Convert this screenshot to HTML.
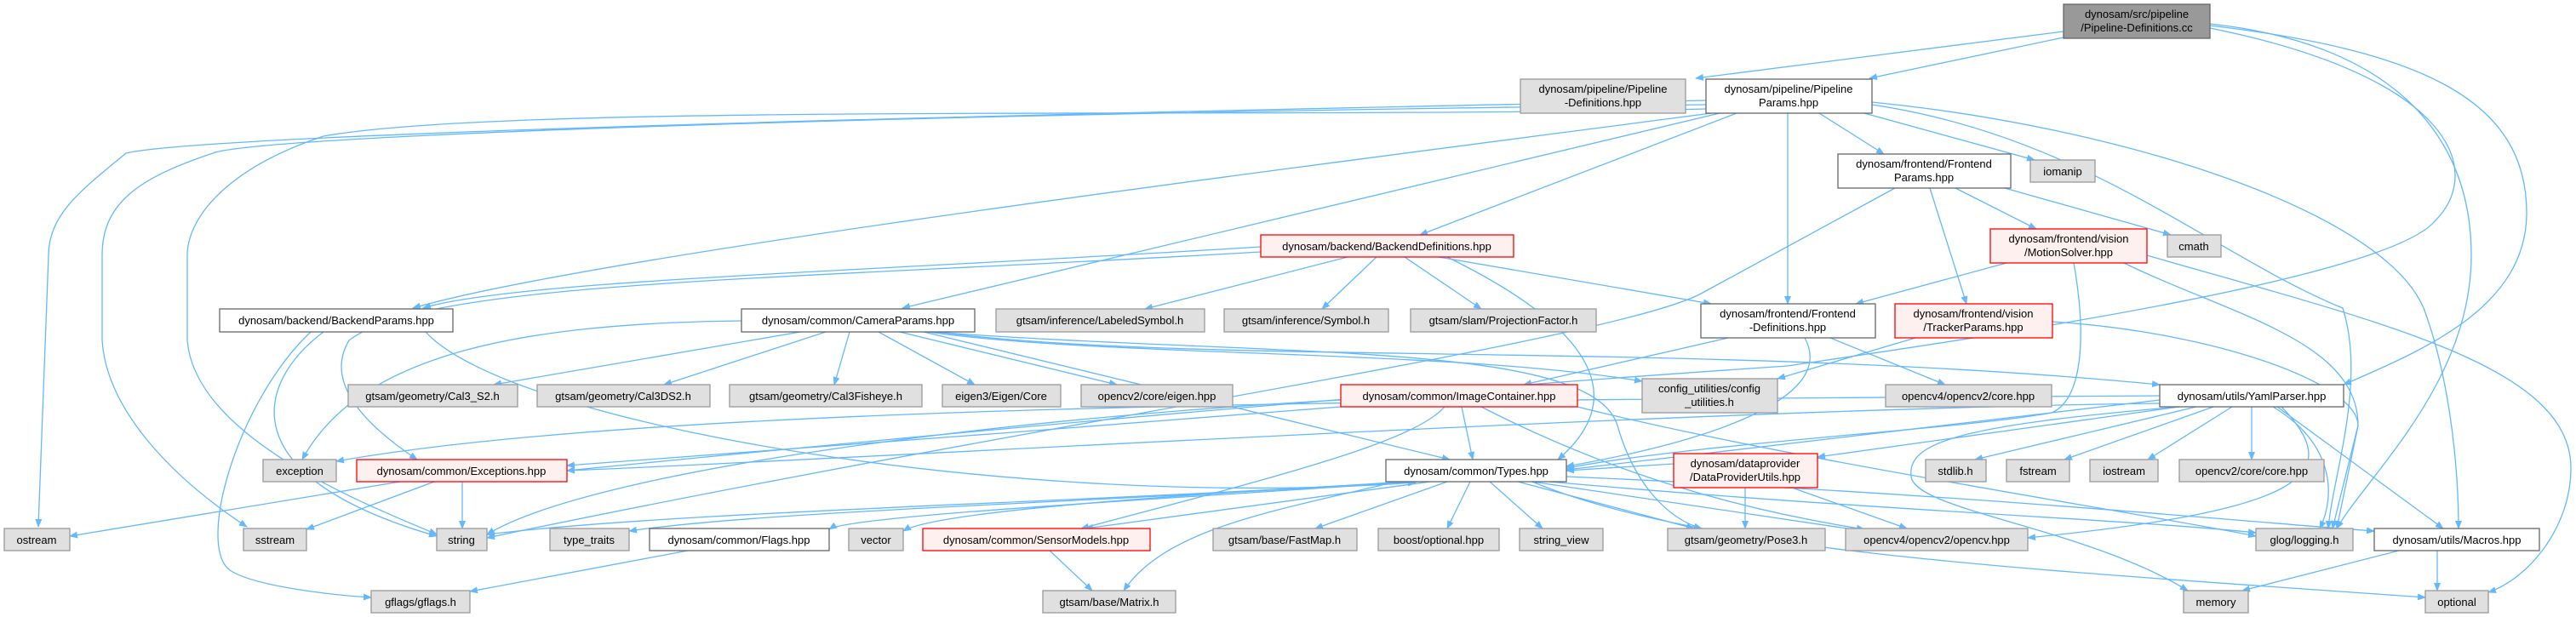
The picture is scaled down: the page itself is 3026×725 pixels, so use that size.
<!DOCTYPE html>
<html><head><meta charset="utf-8"><style>
html,body{margin:0;padding:0;background:#fff;}
svg{display:block;}
text{font-family:"Liberation Sans",sans-serif;font-size:13px;fill:#000;}
.e{fill:none;stroke:#63b8ff;stroke-width:1.3;marker-end:url(#a);}
.w{fill:#fff;stroke:#666;stroke-width:1.3;}
.g{fill:#e0e0e0;stroke:#999;stroke-width:1.3;}
.r{fill:#fff0f0;stroke:#f00;stroke-width:1.3;}
.k{fill:#999;stroke:#666;stroke-width:1.3;}
</style></head><body>
<svg width="3026" height="725" viewBox="0 0 3026 725" xmlns="http://www.w3.org/2000/svg">
<defs><marker id="a" viewBox="0 0 10 10" refX="9" refY="5" markerWidth="10" markerHeight="10" markerUnits="userSpaceOnUse" orient="auto"><path d="M0,1 L10,5 L0,9 z" fill="#63b8ff"/></marker></defs>
<g>
<path class="e" d="M2424,37 L1992,92"/>
<path class="e" d="M2424,44 L2196,92"/>
<path class="e" d="M2596,30 C2850,60 2968,120 2968,250 C2968,360 2850,410 2753,452"/>
<path class="e" d="M2596,28 C2800,50 2903,150 2903,300 C2903,450 2780,560 2745,621"/>
<path class="e" d="M2596,33 C2880,90 2920,200 2860,260 C2800,330 2300,400 2100,430 C1500,470 900,530 666,553"/>
<path class="e" d="M2004,118 C1400,130 250,155 148,180 C100,220 57,250 57,300 L45,619"/>
<path class="e" d="M2004,123 C1000,135 300,160 250,180 C160,210 120,240 120,300 L120,400 C125,480 200,560 290,619"/>
<path class="e" d="M2004,128 C1500,140 600,120 380,160 C260,200 220,260 220,300 L220,400 C230,520 450,600 513,628"/>
<path class="e" d="M2010,133 C1500,200 700,300 485,362"/>
<path class="e" d="M2020,133 L1060,362"/>
<path class="e" d="M2040,133 L1668,276"/>
<path class="e" d="M2100,133 L2100,357"/>
<path class="e" d="M2137,133 L2213,181"/>
<path class="e" d="M2190,133 L2390,188"/>
<path class="e" d="M2199,123 C2450,160 2600,300 2752,362 C2780,450 2740,560 2735,621"/>
<path class="e" d="M2199,120 C2500,150 2800,250 2847,362 C2880,450 2888,560 2888,621"/>
<path class="e" d="M2297,221 L2392,269"/>
<path class="e" d="M2267,221 L2310,357"/>
<path class="e" d="M2355,221 L2550,276"/>
<path class="e" d="M2226,221 L2000,344 C1900,400 1200,500 572,632"/>
<path class="e" d="M2357,309 L2180,357"/>
<path class="e" d="M2436,309 C2452,400 2445,470 2410,485 C2300,505 2000,520 1840,550"/>
<path class="e" d="M2495,309 C2620,370 2770,400 2770,500 L2745,621"/>
<path class="e" d="M2522,300 C2800,380 3020,430 3020,550 C3020,620 2970,680 2923,696"/>
<path class="e" d="M2250,397 L2088,445"/>
<path class="e" d="M2411,378 C2600,390 2770,450 2770,500 L2740,621"/>
<path class="e" d="M2030,397 L1790,452"/>
<path class="e" d="M2150,397 L2285,452"/>
<path class="e" d="M2120,397 C2160,470 2000,520 1840,548"/>
<path class="e" d="M1481,290 C1000,320 600,330 497,362"/>
<path class="e" d="M1481,296 C900,330 500,330 410,400 C380,450 430,500 490,540"/>
<path class="e" d="M1583,302 L1345,363"/>
<path class="e" d="M1617,302 L1553,363"/>
<path class="e" d="M1650,302 L1740,363"/>
<path class="e" d="M1690,302 L2010,357"/>
<path class="e" d="M1700,302 C1900,400 1900,480 1830,540"/>
<path class="e" d="M940,390 L580,452"/>
<path class="e" d="M970,390 L780,452"/>
<path class="e" d="M998,390 L980,452"/>
<path class="e" d="M1032,390 L1145,452"/>
<path class="e" d="M1057,390 L1312,452"/>
<path class="e" d="M1090,390 C1300,420 1700,410 1929,448"/>
<path class="e" d="M1100,390 C1400,430 2000,400 2537,452"/>
<path class="e" d="M1085,390 L1703,540"/>
<path class="e" d="M871,377 C600,380 420,420 355,540"/>
<path class="e" d="M1095,390 C1500,420 1870,400 1900,500 C1920,570 1960,610 1999,621"/>
<path class="e" d="M1575,478 C1300,500 900,530 666,547"/>
<path class="e" d="M1717,478 L1730,540"/>
<path class="e" d="M1697,478 C1660,520 1500,560 1270,621"/>
<path class="e" d="M1740,478 C1900,560 2050,600 2190,622"/>
<path class="e" d="M1853,478 C2100,540 2500,600 2650,630"/>
<path class="e" d="M1575,470 C1200,490 700,550 572,628"/>
<path class="e" d="M2580,478 L2320,540"/>
<path class="e" d="M2600,478 L2425,540"/>
<path class="e" d="M2622,478 L2523,540"/>
<path class="e" d="M2645,478 L2645,540"/>
<path class="e" d="M2537,470 L1840,552"/>
<path class="e" d="M2537,474 C2000,480 1000,540 666,553"/>
<path class="e" d="M2560,478 L2135,537"/>
<path class="e" d="M2670,478 C2740,520 2745,580 2725,621"/>
<path class="e" d="M2675,478 L2870,621"/>
<path class="e" d="M2680,478 C2760,560 2700,600 2382,632"/>
<path class="e" d="M2560,478 C2300,500 2240,520 2245,560 C2250,600 2450,620 2570,694"/>
<path class="e" d="M2537,465 C1800,470 800,470 395,542"/>
<path class="e" d="M1650,566 C1300,590 800,600 572,628"/>
<path class="e" d="M1655,566 C1300,590 900,600 739,624"/>
<path class="e" d="M1665,566 C1400,580 1100,600 1061,624"/>
<path class="e" d="M1660,566 C1400,585 1000,605 974,622"/>
<path class="e" d="M1680,566 L1275,621"/>
<path class="e" d="M1700,566 L1545,621"/>
<path class="e" d="M1727,566 L1700,621"/>
<path class="e" d="M1750,566 L1812,621"/>
<path class="e" d="M1783,566 L1990,621"/>
<path class="e" d="M1800,566 L2190,624"/>
<path class="e" d="M1820,566 C2200,600 2500,610 2650,626"/>
<path class="e" d="M1840,560 C2300,580 2600,610 2789,624"/>
<path class="e" d="M1640,566 C1500,600 1370,620 1320,694"/>
<path class="e" d="M1800,566 C2000,650 2400,670 2849,702"/>
<path class="e" d="M500,390 C600,500 1200,600 1663,567"/>
<path class="e" d="M1966,545 L1840,553"/>
<path class="e" d="M2050,573 L2050,621"/>
<path class="e" d="M2105,573 L2240,621"/>
<path class="e" d="M470,566 L82,630"/>
<path class="e" d="M510,566 L360,622"/>
<path class="e" d="M543,566 L543,621"/>
<path class="e" d="M808,647 L552,695"/>
<path class="e" d="M365,390 C280,470 230,640 270,670 C300,690 400,700 436,702"/>
<path class="e" d="M380,390 C300,450 270,560 513,630"/>
<path class="e" d="M1233,647 L1283,694"/>
<path class="e" d="M2818,647 L2634,694"/>
<path class="e" d="M2863,647 L2863,694"/>
</g>
<g text-anchor="middle">
<rect class="k" x="2424" y="5" width="172" height="40"/><text x="2510" y="21">dynosam/src/pipeline</text><text x="2510" y="37">/Pipeline-Definitions.cc</text>
<rect class="g" x="1786" y="93" width="194" height="40"/><text x="1883" y="109">dynosam/pipeline/Pipeline</text><text x="1883" y="125">-Definitions.hpp</text>
<rect class="w" x="2004" y="93" width="195" height="40"/><text x="2101" y="109">dynosam/pipeline/Pipeline</text><text x="2101" y="125">Params.hpp</text>
<rect class="w" x="2159" y="181" width="203" height="40"/><text x="2260" y="197">dynosam/frontend/Frontend</text><text x="2260" y="213">Params.hpp</text>
<rect class="g" x="2385" y="188" width="76" height="26"/><text x="2423" y="206">iomanip</text>
<rect class="r" x="2338" y="269" width="184" height="40"/><text x="2430" y="285">dynosam/frontend/vision</text><text x="2430" y="301">/MotionSolver.hpp</text>
<rect class="g" x="2546" y="276" width="63" height="26"/><text x="2577" y="294">cmath</text>
<rect class="r" x="1481" y="276" width="297" height="26"/><text x="1629" y="294">dynosam/backend/BackendDefinitions.hpp</text>
<rect class="w" x="258" y="363" width="274" height="27"/><text x="395" y="381">dynosam/backend/BackendParams.hpp</text>
<rect class="w" x="871" y="363" width="274" height="27"/><text x="1008" y="381">dynosam/common/CameraParams.hpp</text>
<rect class="g" x="1170" y="363" width="245" height="27"/><text x="1292" y="381">gtsam/inference/LabeledSymbol.h</text>
<rect class="g" x="1438" y="363" width="193" height="27"/><text x="1534" y="381">gtsam/inference/Symbol.h</text>
<rect class="g" x="1657" y="363" width="218" height="27"/><text x="1766" y="381">gtsam/slam/ProjectionFactor.h</text>
<rect class="w" x="1998" y="357" width="205" height="40"/><text x="2100" y="373">dynosam/frontend/Frontend</text><text x="2100" y="389">-Definitions.hpp</text>
<rect class="r" x="2226" y="357" width="185" height="40"/><text x="2318" y="373">dynosam/frontend/vision</text><text x="2318" y="389">/TrackerParams.hpp</text>
<rect class="g" x="409" y="452" width="199" height="26"/><text x="508" y="470">gtsam/geometry/Cal3_S2.h</text>
<rect class="g" x="631" y="452" width="203" height="26"/><text x="732" y="470">gtsam/geometry/Cal3DS2.h</text>
<rect class="g" x="857" y="452" width="226" height="26"/><text x="970" y="470">gtsam/geometry/Cal3Fisheye.h</text>
<rect class="g" x="1107" y="452" width="139" height="26"/><text x="1176" y="470">eigen3/Eigen/Core</text>
<rect class="g" x="1270" y="452" width="178" height="26"/><text x="1359" y="470">opencv2/core/eigen.hpp</text>
<rect class="r" x="1575" y="452" width="278" height="26"/><text x="1714" y="470">dynosam/common/ImageContainer.hpp</text>
<rect class="g" x="1929" y="445" width="159" height="40"/><text x="2008" y="461">config_utilities/config</text><text x="2008" y="477">_utilities.h</text>
<rect class="g" x="2215" y="452" width="195" height="26"/><text x="2312" y="470">opencv4/opencv2/core.hpp</text>
<rect class="w" x="2537" y="452" width="216" height="26"/><text x="2645" y="470">dynosam/utils/YamlParser.hpp</text>
<rect class="g" x="309" y="540" width="86" height="26"/><text x="352" y="558">exception</text>
<rect class="r" x="419" y="540" width="247" height="26"/><text x="542" y="558">dynosam/common/Exceptions.hpp</text>
<rect class="w" x="1628" y="540" width="212" height="26"/><text x="1734" y="558">dynosam/common/Types.hpp</text>
<rect class="r" x="1966" y="533" width="169" height="40"/><text x="2050" y="549">dynosam/dataprovider</text><text x="2050" y="565">/DataProviderUtils.hpp</text>
<rect class="g" x="2262" y="540" width="71" height="26"/><text x="2297" y="558">stdlib.h</text>
<rect class="g" x="2357" y="540" width="74" height="26"/><text x="2394" y="558">fstream</text>
<rect class="g" x="2455" y="540" width="80" height="26"/><text x="2495" y="558">iostream</text>
<rect class="g" x="2560" y="540" width="170" height="26"/><text x="2645" y="558">opencv2/core/core.hpp</text>
<rect class="g" x="5" y="621" width="77" height="26"/><text x="43" y="639">ostream</text>
<rect class="g" x="286" y="621" width="74" height="26"/><text x="323" y="639">sstream</text>
<rect class="g" x="513" y="621" width="59" height="26"/><text x="542" y="639">string</text>
<rect class="g" x="646" y="621" width="93" height="26"/><text x="692" y="639">type_traits</text>
<rect class="w" x="763" y="621" width="211" height="26"/><text x="868" y="639">dynosam/common/Flags.hpp</text>
<rect class="g" x="997" y="621" width="64" height="26"/><text x="1029" y="639">vector</text>
<rect class="r" x="1084" y="621" width="267" height="26"/><text x="1217" y="639">dynosam/common/SensorModels.hpp</text>
<rect class="g" x="1425" y="621" width="169" height="26"/><text x="1509" y="639">gtsam/base/FastMap.h</text>
<rect class="g" x="1619" y="621" width="142" height="26"/><text x="1690" y="639">boost/optional.hpp</text>
<rect class="g" x="1785" y="621" width="98" height="26"/><text x="1834" y="639">string_view</text>
<rect class="g" x="1959" y="621" width="185" height="26"/><text x="2051" y="639">gtsam/geometry/Pose3.h</text>
<rect class="g" x="2168" y="621" width="214" height="26"/><text x="2275" y="639">opencv4/opencv2/opencv.hpp</text>
<rect class="g" x="2650" y="621" width="114" height="26"/><text x="2707" y="639">glog/logging.h</text>
<rect class="w" x="2789" y="621" width="194" height="26"/><text x="2886" y="639">dynosam/utils/Macros.hpp</text>
<rect class="g" x="436" y="694" width="116" height="26"/><text x="494" y="712">gflags/gflags.h</text>
<rect class="g" x="1225" y="694" width="156" height="26"/><text x="1303" y="712">gtsam/base/Matrix.h</text>
<rect class="g" x="2565" y="694" width="76" height="26"/><text x="2603" y="712">memory</text>
<rect class="g" x="2849" y="694" width="74" height="26"/><text x="2886" y="712">optional</text>
</g>
</svg>
</body></html>
